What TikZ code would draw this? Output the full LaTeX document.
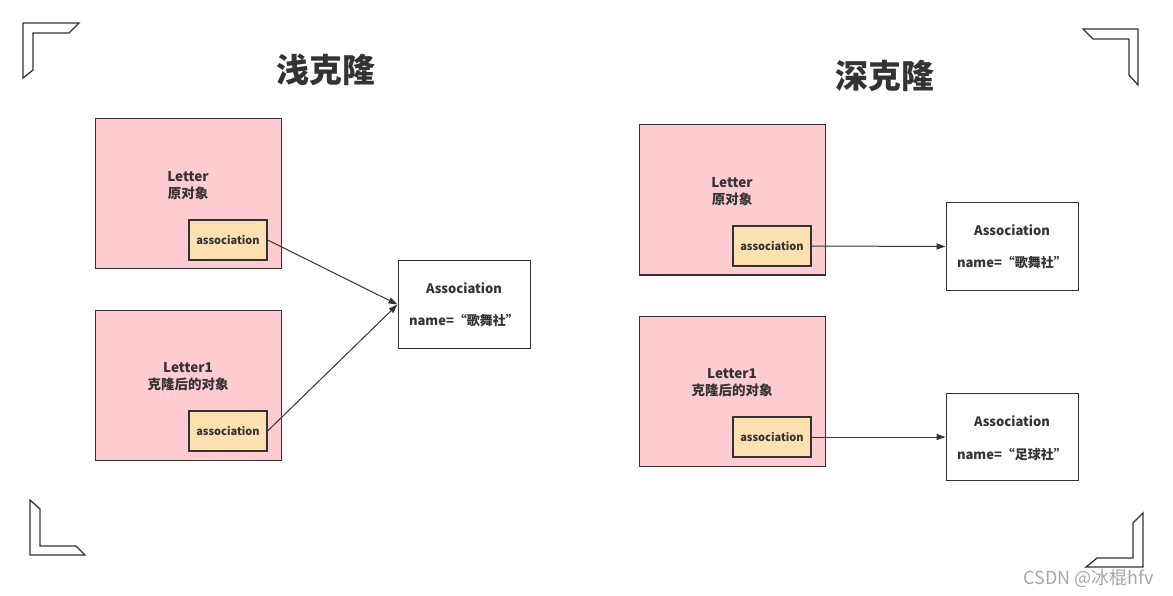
\documentclass[tikz,border=0pt]{standalone}
\usepackage{fontspec}
\newfontfamily\cjk{Noto Sans CJK SC}
\usetikzlibrary{arrows.meta,positioning}
\definecolor{letterpink}{RGB}{255,204,210}
\definecolor{assocorange}{RGB}{255,224,176}
\definecolor{linegray}{RGB}{51,51,51}

\begin{document}
\begin{tikzpicture}[x=1pt,y=-1pt]
\tikzstyle{every node}+=[inner sep=0pt, font=\cjk]
\tikzstyle{obj}=[draw=linegray, fill=letterpink, line width=1pt, minimum width=186pt, minimum height=150pt]
\tikzstyle{objtext}=[align=center, text=linegray, font=\cjk\bfseries\fontsize{13.5}{17}\selectfont]
\tikzstyle{field}=[draw=linegray, fill=assocorange, line width=1.2pt, minimum width=78pt, minimum height=40pt, text=linegray, font=\cjk\bfseries\fontsize{11}{13}\selectfont]
\tikzstyle{target}=[draw=linegray, fill=white, line width=1pt, minimum width=132pt, minimum height=87pt]
\tikzstyle{targettext}=[text=linegray, font=\cjk\bfseries\fontsize{13}{16}\selectfont]
\tikzstyle{link}=[draw=linegray, line width=1pt, -{Triangle[length=9pt,width=6pt]}]
\tikzstyle{corner}=[draw=linegray, fill=white, line width=1.3pt, line join=miter]
\tikzstyle{heading}=[text=linegray, font=\cjk\bfseries\fontsize{33}{39}\selectfont]
\useasboundingbox (0,0) rectangle (1173,596);
% corner marks
\draw[corner] (23,23) -- (79,23) -- (69,33) -- (33,33) -- (33,70) -- (23,78) -- cycle;
\draw[corner] (1138,29) -- (1083,29) -- (1093,39) -- (1129,39) -- (1129,75) -- (1138,85) -- cycle;
\draw[corner] (30,555) -- (30,500) -- (40,509) -- (40,546) -- (76,546) -- (85,555) -- cycle;
\draw[corner] (1143,567) -- (1143,513) -- (1133,523) -- (1133,558) -- (1097,558) -- (1086,567) -- cycle;
% titles
\node[heading] (shallow) at (326,70) {浅克隆};
\node[heading] (deep) at (885,76) {深克隆};
% shallow clone
\node[obj] (letterA) at (188,194) {};
\node[objtext] (letterAtxt) at (188,186) {Letter\\原对象};
\node[field] (fieldA) at (228,240) {association};
\node[obj] (letterB) at (188,385) {};
\node[objtext] (letterBtxt) at (188,377) {Letter1\\克隆后的对象};
\node[field] (fieldB) at (228,431) {association};
\node[target] (assocA) at (464,304.5) {};
\node[targettext] at (464,288) {Association};
\node[targettext] at (464,320) {name=“歌舞社”};
\draw[link] (fieldA.east) -- (assocA.west);
\draw[link] (fieldB.east) -- (assocA.west);
% deep clone
\node[obj] (letterC) at (732,200) {};
\node[objtext] (letterCtxt) at (732,192) {Letter\\原对象};
\node[field] (fieldC) at (772,246) {association};
\node[obj] (letterD) at (732,391) {};
\node[objtext] (letterDtxt) at (732,383) {Letter1\\克隆后的对象};
\node[field] (fieldD) at (772,437) {association};
\node[target] (assocB) at (1012,246.5) {};
\node[targettext] at (1012,230) {Association};
\node[targettext] at (1012,262) {name=“歌舞社”};
\node[target] (assocC) at (1012,437) {};
\node[targettext] at (1012,421) {Association};
\node[targettext] at (1012,454) {name=“足球社”};
\draw[link] (fieldC.east) -- (assocB.west);
\draw[link] (fieldD.east) -- (assocC.west);
% watermark
\node[text=gray!70, font=\cjk\fontsize{18}{21}\selectfont] (mark) at (1089,578) {CSDN @冰棍hfv};
\end{tikzpicture}
\end{document}
